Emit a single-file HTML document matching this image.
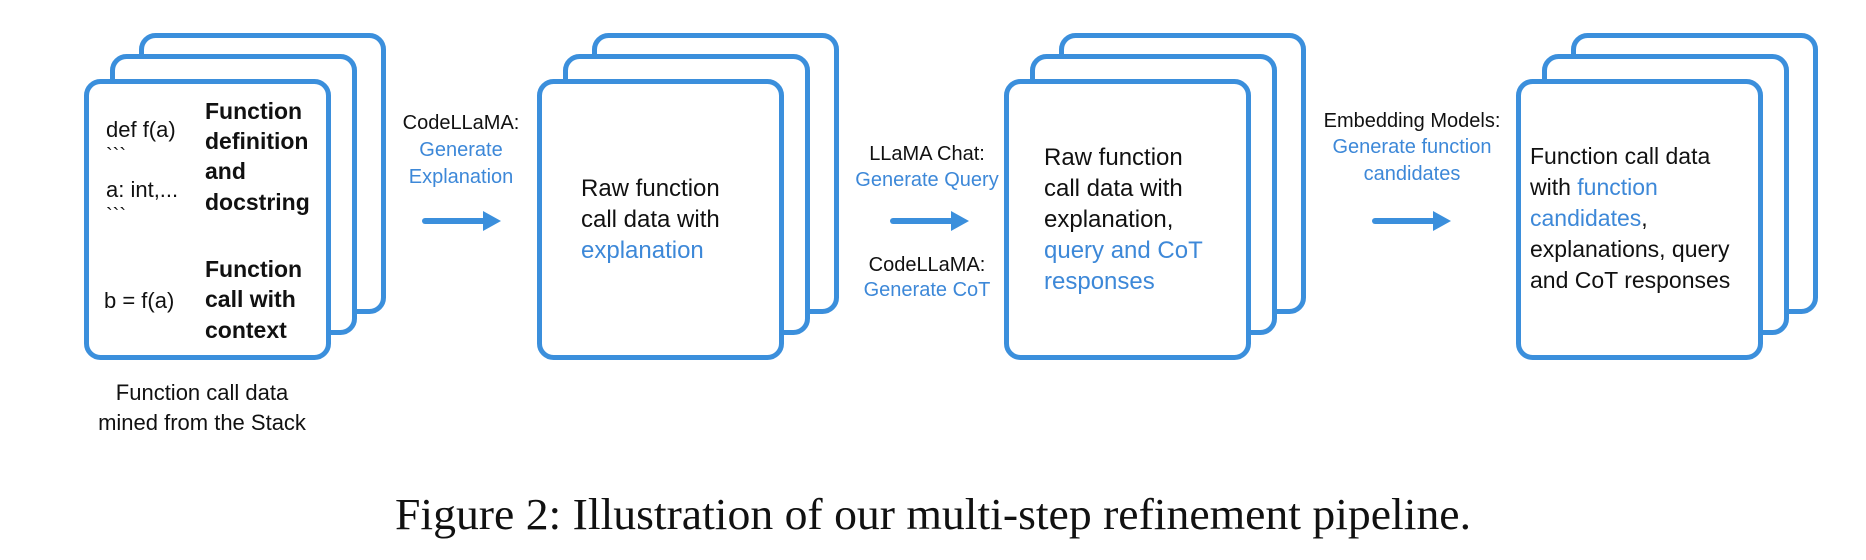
<!DOCTYPE html>
<html><head><meta charset="utf-8"><style>
html,body{margin:0;padding:0;background:#fff;width:1866px;height:560px;overflow:hidden}
svg{display:block}
text{font-family:"Liberation Sans",sans-serif;fill:#111}
.b{fill:#3d88d8}
</style></head><body>
<svg width="1866" height="560" viewBox="0 0 1866 560" xmlns="http://www.w3.org/2000/svg">
<defs>
<g id="stack">
<rect x="57.5" y="-43.5" width="242" height="276" rx="14" fill="#fff" stroke="#3b8fdc" stroke-width="5"/>
<rect x="28.5" y="-22.5" width="242" height="276" rx="14" fill="#fff" stroke="#3b8fdc" stroke-width="5"/>
<rect x="2.5" y="2.5" width="242" height="276" rx="14" fill="#fff" stroke="#3b8fdc" stroke-width="5"/>
</g>
<g id="arrow">
<line x1="0" y1="0" x2="62" y2="0" stroke="#3b8fdc" stroke-width="6" stroke-linecap="round"/>
<polygon points="58,-10 76,0 58,10" fill="#3b8fdc"/>
</g>
</defs>

<use href="#stack" x="84" y="79"/>
<use href="#stack" x="537" y="79"/>
<use href="#stack" x="1004" y="79"/>
<use href="#stack" x="1516" y="79"/>

<g font-size="22">
<text x="106" y="137">def f(a)</text>
<text x="106" y="162" font-size="20">&#96;&#96;&#96;</text>
<text x="106" y="197">a: int,...</text>
<text x="106" y="222" font-size="20">&#96;&#96;&#96;</text>
<text x="104" y="308">b = f(a)</text>
</g>
<g font-size="23" font-weight="bold">
<text x="205" y="119">Function</text>
<text x="205" y="149">definition</text>
<text x="205" y="179">and</text>
<text x="205" y="210">docstring</text>
<text x="205" y="277">Function</text>
<text x="205" y="307">call with</text>
<text x="205" y="338">context</text>
</g>
<g font-size="22" text-anchor="middle">
<text x="202" y="400">Function call data</text>
<text x="202" y="430">mined from the Stack</text>
</g>

<g font-size="20" text-anchor="middle">
<text x="461" y="129">CodeLLaMA:</text>
<text x="461" y="156" class="b">Generate</text>
<text x="461" y="183" class="b">Explanation</text>
</g>
<use href="#arrow" x="425" y="221"/>

<g font-size="24">
<text x="581" y="196">Raw function</text>
<text x="581" y="227">call data with</text>
<text x="581" y="258" class="b">explanation</text>
</g>

<g font-size="20" text-anchor="middle">
<text x="927" y="160">LLaMA Chat:</text>
<text x="927" y="186" class="b">Generate Query</text>
<text x="927" y="271">CodeLLaMA:</text>
<text x="927" y="296" class="b">Generate CoT</text>
</g>
<use href="#arrow" x="893" y="221"/>

<g font-size="24">
<text x="1044" y="165">Raw function</text>
<text x="1044" y="196">call data with</text>
<text x="1044" y="227">explanation,</text>
<text x="1044" y="258" class="b">query and CoT</text>
<text x="1044" y="289" class="b">responses</text>
</g>

<g font-size="20" text-anchor="middle">
<text x="1412" y="127">Embedding Models:</text>
<text x="1412" y="153" class="b">Generate function</text>
<text x="1412" y="180" class="b">candidates</text>
</g>
<use href="#arrow" x="1375" y="221"/>

<g font-size="23">
<text x="1530" y="164">Function call data</text>
<text x="1530" y="195">with <tspan class="b">function</tspan></text>
<text x="1530" y="226"><tspan class="b">candidates</tspan>,</text>
<text x="1530" y="257">explanations, query</text>
<text x="1530" y="288">and CoT responses</text>
</g>

<text x="395" y="529" font-size="44" textLength="1076" lengthAdjust="spacingAndGlyphs" style="font-family:'Liberation Serif',serif">Figure 2: Illustration of our multi-step refinement pipeline.</text>
</svg>
</body></html>
